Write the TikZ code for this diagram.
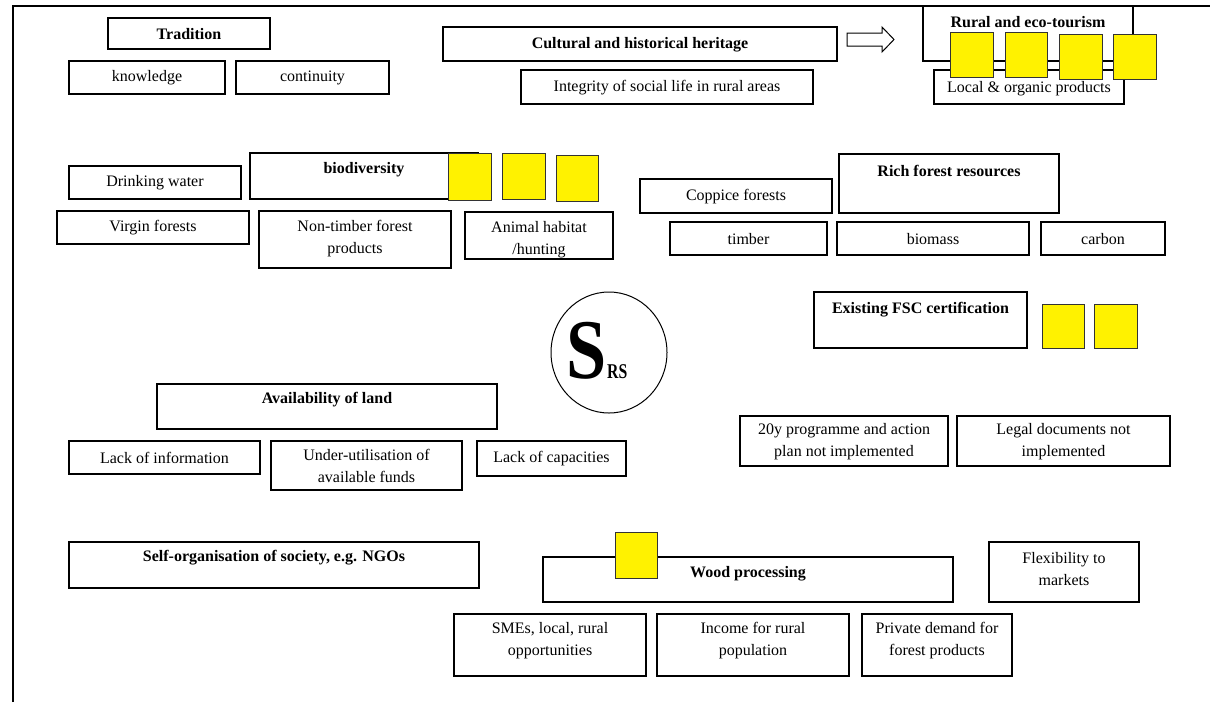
\documentclass[tikz,border=0pt]{standalone}
\usepackage{fontspec}
\setmainfont{Liberation Serif}
\usetikzlibrary{fit,shapes.geometric}

\tikzset{
  x=1pt, y=-1pt,
  cell/.style={draw=black, line width=1.2pt, inner sep=0pt},
  celltext/.style={inner sep=0pt, align=center, font=\fontsize{16}{22}\selectfont},
  boldtext/.style={celltext, font=\fontsize{16}{22}\selectfont\bfseries},
  ysq/.style={draw=black!80, line width=1pt, fill=yellow, inner sep=0pt},
}

% box from (x1,y1) to (x2,y2), text centred horizontally at height ty
\newcommand{\boxcell}[7]{%
  \node[cell, fit={(#2,#3) (#4,#5)}] (#1) {};
  \node[celltext] (#1-t) at ({(#2+#4)/2},#6) {#7};}
\newcommand{\boldcell}[7]{%
  \node[cell, fit={(#2,#3) (#4,#5)}] (#1) {};
  \node[boldtext] (#1-t) at ({(#2+#4)/2},#6) {#7};}
\newcommand{\yellowsq}[5]{%
  \node[ysq, fit={(#2,#3) (#4,#5)}] (#1) {};}

\begin{document}
\begin{tikzpicture}
\useasboundingbox (0,0) rectangle (1210,702);

% frame
\draw[line width=1.5pt] (13,702) -- (13,6) -- (1210,6);

% tradition
\boldcell{trad}{108}{18}{270}{49}{34}{Tradition}
\boxcell{know}{69}{61}{225}{94}{78}{knowledge}
\boxcell{cont}{236}{61}{389}{94}{78}{continuity}

% heritage
\boldcell{cult}{443}{27}{837}{61}{45}{Cultural and historical heritage}
\boxcell{integ}{521}{70}{813}{104}{88}{Integrity of social life in rural areas}

% block arrow
\draw[line width=1pt] (847,33) -- (882,33) -- (882,27) -- (894,39.5) -- (882,52)
  -- (882,46) -- (847,46) -- cycle;

% tourism
\boldcell{rural}{923}{6}{1133}{61}{22}{Rural and eco-tourism}
\boxcell{local}{934}{70}{1124}{104}{89}{Local \& organic products}
\yellowsq{ya}{950}{32}{993}{77}
\yellowsq{yb}{1005}{32}{1047}{77}
\yellowsq{yc}{1059}{34}{1102}{79}
\yellowsq{yd}{1113}{34}{1156}{79}

% biodiversity
\boxcell{drink}{69}{166}{241}{199}{183}{Drinking water}
\boldcell{biodiv}{250}{153}{478}{199}{170}{biodiversity}
\yellowsq{ye}{448}{153}{491}{200}
\yellowsq{yf}{502}{153}{545}{199}
\yellowsq{yg}{556}{155}{598}{201}
\boxcell{virgin}{57}{211}{249}{244}{228}{Virgin forests}
\boxcell{ntfp}{259}{211}{451}{268}{239}{Non-timber forest\\products}
\boxcell{animal}{465}{212}{613}{259}{240}{Animal habitat\\/hunting}

% forest resources
\boxcell{copp}{640}{179}{832}{213}{197}{Coppice forests}
\boldcell{rich}{839}{154}{1059}{213}{171}{Rich forest resources}
\boxcell{timber}{670}{222}{827}{255}{239}{timber}
\boxcell{biomass}{837}{222}{1029}{255}{239}{biomass}
\boxcell{carbon}{1041}{222}{1165}{255}{239}{carbon}

% centre
\node[ellipse, draw=black, line width=1pt, minimum width=116pt, minimum height=121pt, inner sep=0pt] (srs) at (609,352.5) {};
\node[inner sep=0pt, anchor=base west, xscale=0.85] (srs-s) at (566,378)
  {\fontsize{85}{85}\selectfont\bfseries S};
\node[inner sep=0pt, anchor=base west, xscale=0.75] (srs-rs) at (607,378)
  {\fontsize{21}{21}\selectfont\bfseries RS};

% certification
\boldcell{fsc}{814}{292}{1027}{348}{310}{Existing FSC certification}
\yellowsq{yh}{1042}{304}{1084}{348}
\yellowsq{yi}{1094}{304}{1137}{348}
\boxcell{prog}{740}{416}{948}{466}{442}{20y programme and action\\plan not implemented}
\boxcell{legal}{957}{416}{1170}{466}{442}{Legal documents not\\implemented}

% land
\boldcell{avail}{157}{384}{497}{429}{400}{Availability of land}
\boxcell{linfo}{69}{441}{260}{474}{458}{Lack of information}
\boxcell{funds}{271}{441}{462}{490}{466}{Under-utilisation of\\available funds}
\boxcell{lcap}{477}{441}{626}{476}{459}{Lack of capacities}

% society and wood
\boldcell{selforg}{69}{542}{479}{588}{558}{Self-organisation of society, e.g. NGOs}
\boldcell{wood}{543}{557}{953}{602}{574}{Wood processing}
\yellowsq{yj}{615}{532}{657}{578}
\boxcell{flex}{989}{542}{1139}{602}{569}{Flexibility to\\markets}
\boxcell{smes}{454}{614}{646}{676}{641}{SMEs, local, rural\\opportunities}
\boxcell{income}{657}{614}{849}{676}{641}{Income for rural\\population}
\boxcell{priv}{862}{614}{1012}{676}{641}{Private demand for\\forest products}
\end{tikzpicture}
\end{document}
